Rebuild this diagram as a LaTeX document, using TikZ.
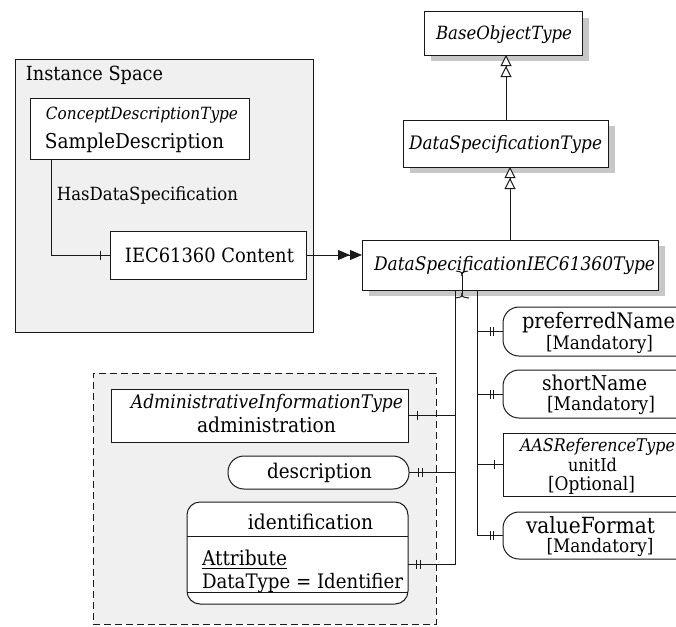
\documentclass[tikz,border=0pt]{standalone}
\usepackage{graphicx}
\usepackage{fontspec}
\setmainfont{DejaVu Serif}
\usetikzlibrary{arrows.meta,shadows}

% text scaled to a given width (in pt), slightly taller than wide
\newcommand{\fw}[2]{\scalebox{1}[1.1]{\resizebox{#1pt}{!}{#2}}}
% single and double cardinality ticks across a horizontal line
\newcommand{\onetick}[2]{\draw ([xshift=#2]#1) ++(0,-4.5) -- ++(0,9);}
\newcommand{\twoticks}[3]{\draw ([xshift=#2]#1) ++(0,-4.5) -- ++(0,9); \draw ([xshift=#3]#1) ++(0,-4.5) -- ++(0,9);}

\begin{document}
\begin{tikzpicture}[x=1pt,y=-1pt,
  line width=1pt, draw=black!90,
  every node/.style={inner sep=0pt, outer sep=0pt, text=black},
  region/.style={draw=black!90, fill=black!6},
  plainbox/.style={draw=black!90, fill=white},
  typebox/.style={draw=black!90, fill=white,
    drop shadow={shadow xshift=7pt, shadow yshift=-6pt, fill=black!22, opacity=1}},
  pill/.style={draw=black!90, fill=white, rounded corners=16pt},
  gen/.style={-{Triangle[fill=white,length=11pt,width=11pt]Triangle[fill=white,length=11pt,width=11pt]}},
  flow/.style={-{Triangle[length=12pt,width=10pt]Triangle[length=12pt,width=10pt]}},
]
\useasboundingbox (0,0) rectangle (676,626);
\clip (0,0) rectangle (676,626);

% ---------------- instance space ----------------
\node[region, minimum width=298pt, minimum height=273pt] (inst) at (164,196) {};
\node (instlabel) at (94.5,75) {\fw{137}{Instance Space}};

\node[plainbox, minimum width=219pt, minimum height=61pt] (cdt) at (139.5,128.5) {};
\node (cdttype) at (142,115) {\fw{192}{\itshape ConceptDescriptionType}};
\node (cdtname) at (134.5,143) {\fw{179}{SampleDescription}};

\node[plainbox, minimum width=196pt, minimum height=48pt] (iec) at (208,255) {};
\node (ieclabel) at (209.5,255) {\fw{169}{IEC61360 Content}};

\draw ([xshift=21pt]cdt.south west) |- (iec.west);
\onetick{iec.west}{-10pt}
\node (hasds) at (147.5,195) {\fw{181}{HasDataSpecification}};

% ---------------- type hierarchy ----------------
\node[typebox, minimum width=158pt, minimum height=43pt] (base) at (503,33.5) {};
\node (basetxt) at (504,35) {\fw{136}{\itshape BaseObjectType}};

\node[typebox, minimum width=205pt, minimum height=47pt] (dst) at (505.5,143.5) {};
\node (dsttxt) at (505.5,145) {\fw{193}{\itshape DataSpecificationType}};

\node[typebox, minimum width=296pt, minimum height=50pt] (dsiec) at (510,265) {};
\node (dsiectxt) at (514.5,265) {\fw{281}{\itshape DataSpecificationIEC61360Type}};

\draw[gen] ([xshift=0.5pt]dst.north) -- ([xshift=0.5pt]dst.north |- base.south);
\draw[gen] (dsiec.north) -- (dsiec.north |- dst.south);
\draw[flow] (iec.east) -- (iec.east -| dsiec.west);

% ---------------- common attributes ----------------
\node[region, dashed, dash pattern=on 7pt off 4pt, minimum width=343pt, minimum height=251pt] (common) at (264.5,498.5) {};

\node[plainbox, minimum width=297pt, minimum height=53pt] (admin) at (259.5,415.5) {};
\node (admintype) at (267,403) {\fw{272}{\itshape AdministrativeInformationType}};
\node (adminname) at (266.5,425) {\fw{139}{administration}};

\node[pill, minimum width=181pt, minimum height=33pt] (desc) at (318.5,472.5) {};
\node (desctxt) at (319.5,473) {\fw{105}{description}};

\node[plainbox, rounded corners=13pt, minimum width=221pt, minimum height=102pt] (ident) at (297.5,553) {};
\draw ([yshift=-34pt]ident.north west) -- ([yshift=-34pt]ident.north east);
\draw ([yshift=12pt]ident.south west) -- ([yshift=12pt]ident.south east);
\node (identtxt) at (310.5,522) {\fw{125}{identification}};
\node[anchor=west] (identattr) at (202,560) {\fw{85}{\underline{Attribute}}};
\node[anchor=west] (identtype) at (202,583) {\fw{201}{DataType = Identifier}};
\coordinate (identport) at ([yshift=-11pt]ident.east);

% ---------------- specific attributes ----------------
\node[pill, minimum width=197pt, minimum height=49pt] (pname) at (601.5,331.5) {};
\node (pnametxt) at (598.5,323) {\fw{153}{preferredName}};
\node (pnamemand) at (599.5,344) {\fw{107}{[Mandatory]}};

\node[pill, minimum width=197pt, minimum height=48pt] (sname) at (601.5,394) {};
\node (snametxt) at (594.5,383) {\fw{105}{shortName}};
\node (snamemand) at (601,405) {\fw{108}{[Mandatory]}};

\node[plainbox, minimum width=197pt, minimum height=63pt] (unit) at (601.5,464.5) {};
\node (unittype) at (597.5,447) {\fw{155}{\itshape AASReferenceType}};
\node (unitname) at (592.5,465) {\fw{49}{unitId}};
\node (unitopt) at (591.5,485) {\fw{87}{[Optional]}};

\node[pill, minimum width=197pt, minimum height=47pt] (vform) at (601.5,535.5) {};
\node (vformtxt) at (590.5,525) {\fw{129}{valueFormat}};
\node (vformmand) at (600,547) {\fw{107}{[Mandatory]}};

% ---------------- composition connectors ----------------
\coordinate (lbus) at ([xshift=-55pt]dsiec.south);
\coordinate (rbus) at ([xshift=-33pt]dsiec.south);

\draw (lbus) |- (identport);
\draw (admin.east) -- (admin.east -| lbus);
\draw (desc.east) -- (desc.east -| lbus);
\onetick{admin.east}{9pt}
\twoticks{desc.east}{9pt}{13pt}
\twoticks{identport}{8pt}{12pt}

\draw (rbus) |- (vform.west);
\draw (pname.west) -- (pname.west -| rbus);
\draw (sname.west) -- (sname.west -| rbus);
\draw (unit.west) -- (unit.west -| rbus);
\twoticks{pname.west}{-13pt}{-10pt}
\twoticks{sname.west}{-13pt}{-10pt}
\onetick{unit.west}{-9pt}
\twoticks{vform.west}{-13pt}{-10pt}

% text cursor resting on the type box
\draw[line width=1pt] (462,275) -- (462,294);
\draw (462,276) .. controls (462,272) .. (456,271);
\draw (462,276) .. controls (462,272) .. (468,271);
\draw (462,293) .. controls (462,297) .. (455,298);
\draw (462,293) .. controls (462,297) .. (469,298);
\end{tikzpicture}
\end{document}
